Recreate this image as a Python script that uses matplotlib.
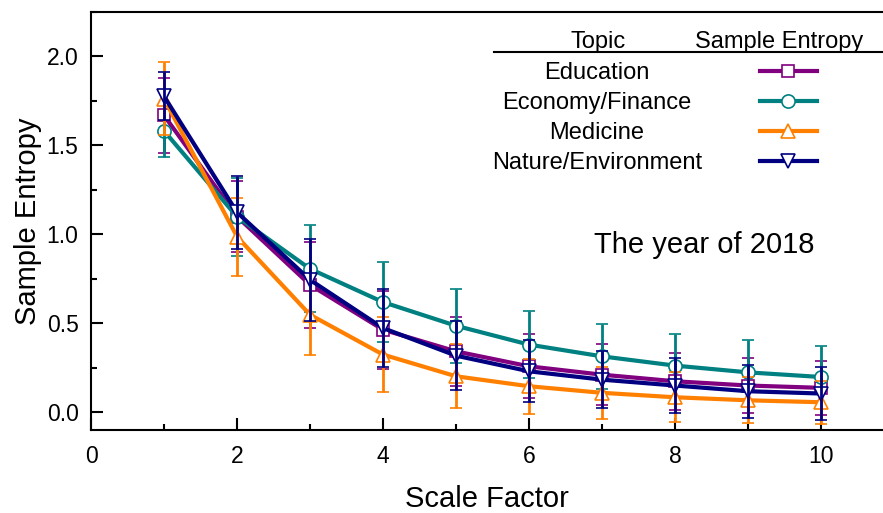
"""
Sample entropy vs scale factor for four topics (year 2018).
"""
import matplotlib
matplotlib.use('Agg')
import matplotlib.pyplot as plt
from matplotlib.lines import Line2D
from matplotlib.ticker import MultipleLocator

plt.rcParams['font.family'] = ['Liberation Sans', 'DejaVu Sans']

scale = [1, 2, 3, 4, 5, 6, 7, 8, 9, 10]

topics = ['Education', 'Economy/Finance', 'Medicine', 'Nature/Environment']

education = [1.669, 1.100, 0.716, 0.464, 0.342, 0.258, 0.211, 0.174, 0.150, 0.137]
education_err = [0.21, 0.20, 0.24, 0.22, 0.196, 0.18, 0.17, 0.16, 0.155, 0.15]

economy = [1.582, 1.099, 0.806, 0.619, 0.486, 0.380, 0.314, 0.262, 0.224, 0.198]
economy_err = [0.15, 0.22, 0.245, 0.227, 0.208, 0.187, 0.183, 0.178, 0.18, 0.172]

medicine = [1.763, 0.987, 0.548, 0.324, 0.202, 0.146, 0.109, 0.084, 0.067, 0.056]
medicine_err = [0.205, 0.22, 0.224, 0.21, 0.18, 0.155, 0.146, 0.14, 0.13, 0.12]

nature = [1.776, 1.124, 0.744, 0.473, 0.318, 0.230, 0.183, 0.150, 0.118, 0.105]
nature_err = [0.135, 0.205, 0.23, 0.22, 0.195, 0.175, 0.16, 0.155, 0.15, 0.147]

series = [education, economy, medicine, nature]
errors = [education_err, economy_err, medicine_err, nature_err]
colors = ['#800080', '#008080', '#FF8000', '#000080']
markers = ['s', 'o', '^', 'v']
msizes = [8.0, 9.5, 10.0, 10.0]

W, H = 883, 513
fig = plt.figure(figsize=(W / 100, H / 100), dpi=100)
ax = fig.add_axes([91 / W, 1 - 430 / H, 1 - 91 / W, (430 - 12) / H])


def fx(px):
    return px / W


def fy(py):
    return 1 - py / H


for i, (vals, errs) in enumerate(zip(series, errors)):
    ax.errorbar(scale, vals, yerr=errs, color=colors[i], lw=3.0,
                marker=markers[i], ms=msizes[i], mfc='white', mec=colors[i], mew=1.2,
                elinewidth=2.0, capsize=4.6, capthick=2.0, barsabove=True,
                zorder=3 + i)

ax.set_xlim(0, (W - 91) / 73)
ax.set_ylim(-0.1, 2.25)
ax.xaxis.set_major_locator(MultipleLocator(2))
ax.xaxis.set_minor_locator(MultipleLocator(1))
ax.yaxis.set_major_locator(MultipleLocator(0.5))
ax.yaxis.set_minor_locator(MultipleLocator(0.25))
ax.yaxis.set_major_formatter(plt.FormatStrFormatter('%.1f'))
ax.tick_params(which='both', direction='in', width=1.5, labelsize=16.5)
ax.tick_params(which='major', length=8.5)
ax.tick_params(which='minor', length=4.3)
ax.tick_params(axis='x', which='major', pad=11)
ax.tick_params(axis='y', which='major', pad=9)
ax.tick_params(axis='x', which='both', top=False)
ax.tick_params(axis='y', which='both', right=False)
for side in ['left', 'bottom', 'top']:
    ax.spines[side].set_linewidth(1.5)
ax.spines['right'].set_visible(False)

ax.set_xlabel('Scale Factor', fontsize=21, labelpad=12)
ax.set_ylabel('Sample Entropy', fontsize=21, labelpad=3)

fig.text(fx(704), fy(245), 'The year of 2018', fontsize=21, ha='center', va='center')

# table-style legend
fig.text(fx(598), fy(42), 'Topic', fontsize=17, ha='center', va='center')
fig.text(fx(779), fy(42), 'Sample Entropy', fontsize=17, ha='center', va='center')
fig.add_artist(Line2D([fx(494), fx(W)], [fy(52), fy(52)], color='black', lw=1.5,
                      transform=fig.transFigure))
for i, name in enumerate(topics):
    y = fy(71 + 30 * i)
    fig.text(fx(597), fy(73 + 30 * i), name, fontsize=17, ha='center', va='center')
    fig.add_artist(Line2D([fx(760), fx(817)], [y, y], color=colors[i], lw=3.0,
                          transform=fig.transFigure))
    fig.add_artist(Line2D([fx(788)], [y], marker=markers[i], ms=msizes[i], mfc='white',
                          mec=colors[i], mew=1.2, ls='none', transform=fig.transFigure))

fig.savefig('out.png', dpi=100)
